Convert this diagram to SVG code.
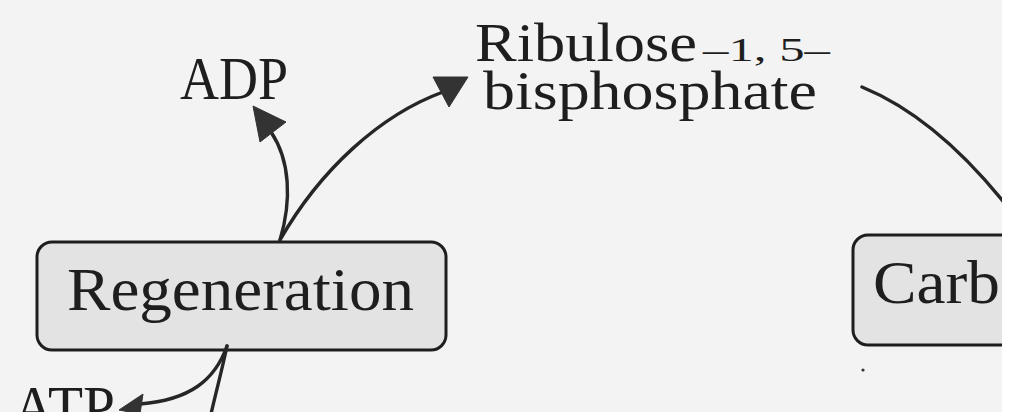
<svg xmlns="http://www.w3.org/2000/svg" width="1013" height="412" viewBox="0 0 1013 412">
  <style>
    .big { font-family: "Liberation Serif", "DejaVu Serif", serif; font-size: 62px; fill: #1e1e1e; }
    .mid { font-family: "Liberation Serif", "DejaVu Serif", serif; font-size: 55px; fill: #1e1e1e; }
    .small { font-family: "Liberation Serif", "DejaVu Serif", serif; font-size: 34px; fill: #1e1e1e; }
    .box { fill: #e3e3e3; stroke: #1e1e1e; stroke-width: 3; }
    .conn { fill: none; stroke: #262626; stroke-width: 3.4; stroke-linecap: round; }
    .head { fill: #333333; stroke: #333333; stroke-width: 1; stroke-linejoin: round; }
  </style>
  <defs>
    <clipPath id="page">
      <rect x="0" y="0" width="1002" height="412"/>
    </clipPath>
  </defs>
  <rect x="0" y="0" width="1013" height="412" fill="#ffffff"/>
  <g clip-path="url(#page)">
    <rect x="0" y="0" width="1002" height="412" fill="#f3f3f3"/>

    <g id="node-regeneration">
      <rect class="box" x="37" y="242" width="409" height="108" rx="15" ry="15"/>
      <text class="big" x="67" y="310" textLength="347" lengthAdjust="spacingAndGlyphs">Regeneration</text>
    </g>

    <g id="node-carb">
      <rect class="box" x="853" y="235" width="220" height="110" rx="15" ry="15"/>
      <text class="big" x="873" y="303" textLength="127" lengthAdjust="spacingAndGlyphs">Carb</text>
    </g>

    <g id="label-adp">
      <text class="big" x="180" y="99" font-size="58" textLength="108" lengthAdjust="spacingAndGlyphs">ADP</text>
    </g>

    <g id="label-rubp">
      <text class="mid" x="475" y="61" textLength="222" lengthAdjust="spacingAndGlyphs">Ribulose</text>
      <text class="small" x="703" y="61" textLength="127" lengthAdjust="spacingAndGlyphs">–1, 5–</text>
      <text class="mid" x="483" y="109" textLength="334" lengthAdjust="spacingAndGlyphs">bisphosphate</text>
    </g>

    <g id="label-atp">
      <text class="big" x="13" y="428" font-size="60" textLength="102" lengthAdjust="spacingAndGlyphs">ATP</text>
    </g>

    <g id="connectors">
      <path class="conn" d="M280,240 C292,200 290,160 271,132"/>
      <polygon class="head" points="253,106 260,142 286,122"/>
      <path class="conn" d="M280,240 C320,170 380,115 443,92"/>
      <polygon class="head" points="433,77 468,77 449,107"/>
      <path class="conn" d="M862,87 Q934,116.5 1002,200 L1012,213"/>
      <path class="conn" d="M227,346 C215,380 190,400 140,404"/>
      <polygon class="head" points="119,410 143,394 140,414"/>
      <path class="conn" d="M227,346 C222,370 216,392 211,414"/>
    </g>

    <circle cx="863" cy="370" r="1.6" fill="#333333"/>
  </g>
</svg>
